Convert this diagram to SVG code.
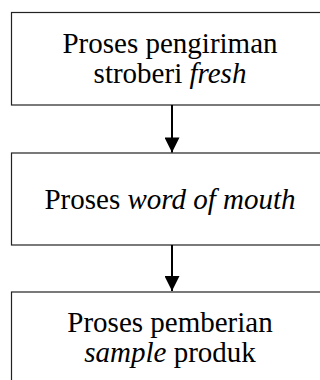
<svg xmlns="http://www.w3.org/2000/svg" width="320" height="380" viewBox="0 0 320 380">
<style>
.box{fill:#ffffff;stroke:#222;stroke-width:1.2}
.conn{stroke:#000;stroke-width:2;fill:none}
</style>
<defs>
<marker id="ah" markerUnits="userSpaceOnUse" markerWidth="16" markerHeight="15" refX="16" refY="8" orient="auto" viewBox="0 0 16 16">
<path d="M0,0 L16,8 L0,16 Z" fill="#000"/>
</marker>
</defs>
<rect width="320" height="380" fill="#fff"/>
<g font-family="Liberation Serif, Times New Roman, DejaVu Serif, serif" font-size="29" fill="#000" text-anchor="middle">
<g id="node1">
<rect class="box" x="11.5" y="12.5" width="322" height="92.5"/>
<text x="170" y="53">Proses pengiriman</text>
<text x="170" y="83">stroberi <tspan font-style="italic">fresh</tspan></text>
</g>
<g id="node2">
<rect class="box" x="11.5" y="153" width="322" height="92"/>
<text x="170" y="209">Proses <tspan font-style="italic">word of mouth</tspan></text>
</g>
<g id="node3">
<rect class="box" x="11.5" y="292" width="322" height="100"/>
<text x="170" y="332">Proses pemberian</text>
<text x="170" y="362"><tspan font-style="italic">sample</tspan> produk</text>
</g>
</g>
<g id="connectors">
<line class="conn" x1="172" y1="105" x2="172" y2="152.5" marker-end="url(#ah)"/>
<line class="conn" x1="172" y1="245" x2="172" y2="291" marker-end="url(#ah)"/>
</g>
</svg>
